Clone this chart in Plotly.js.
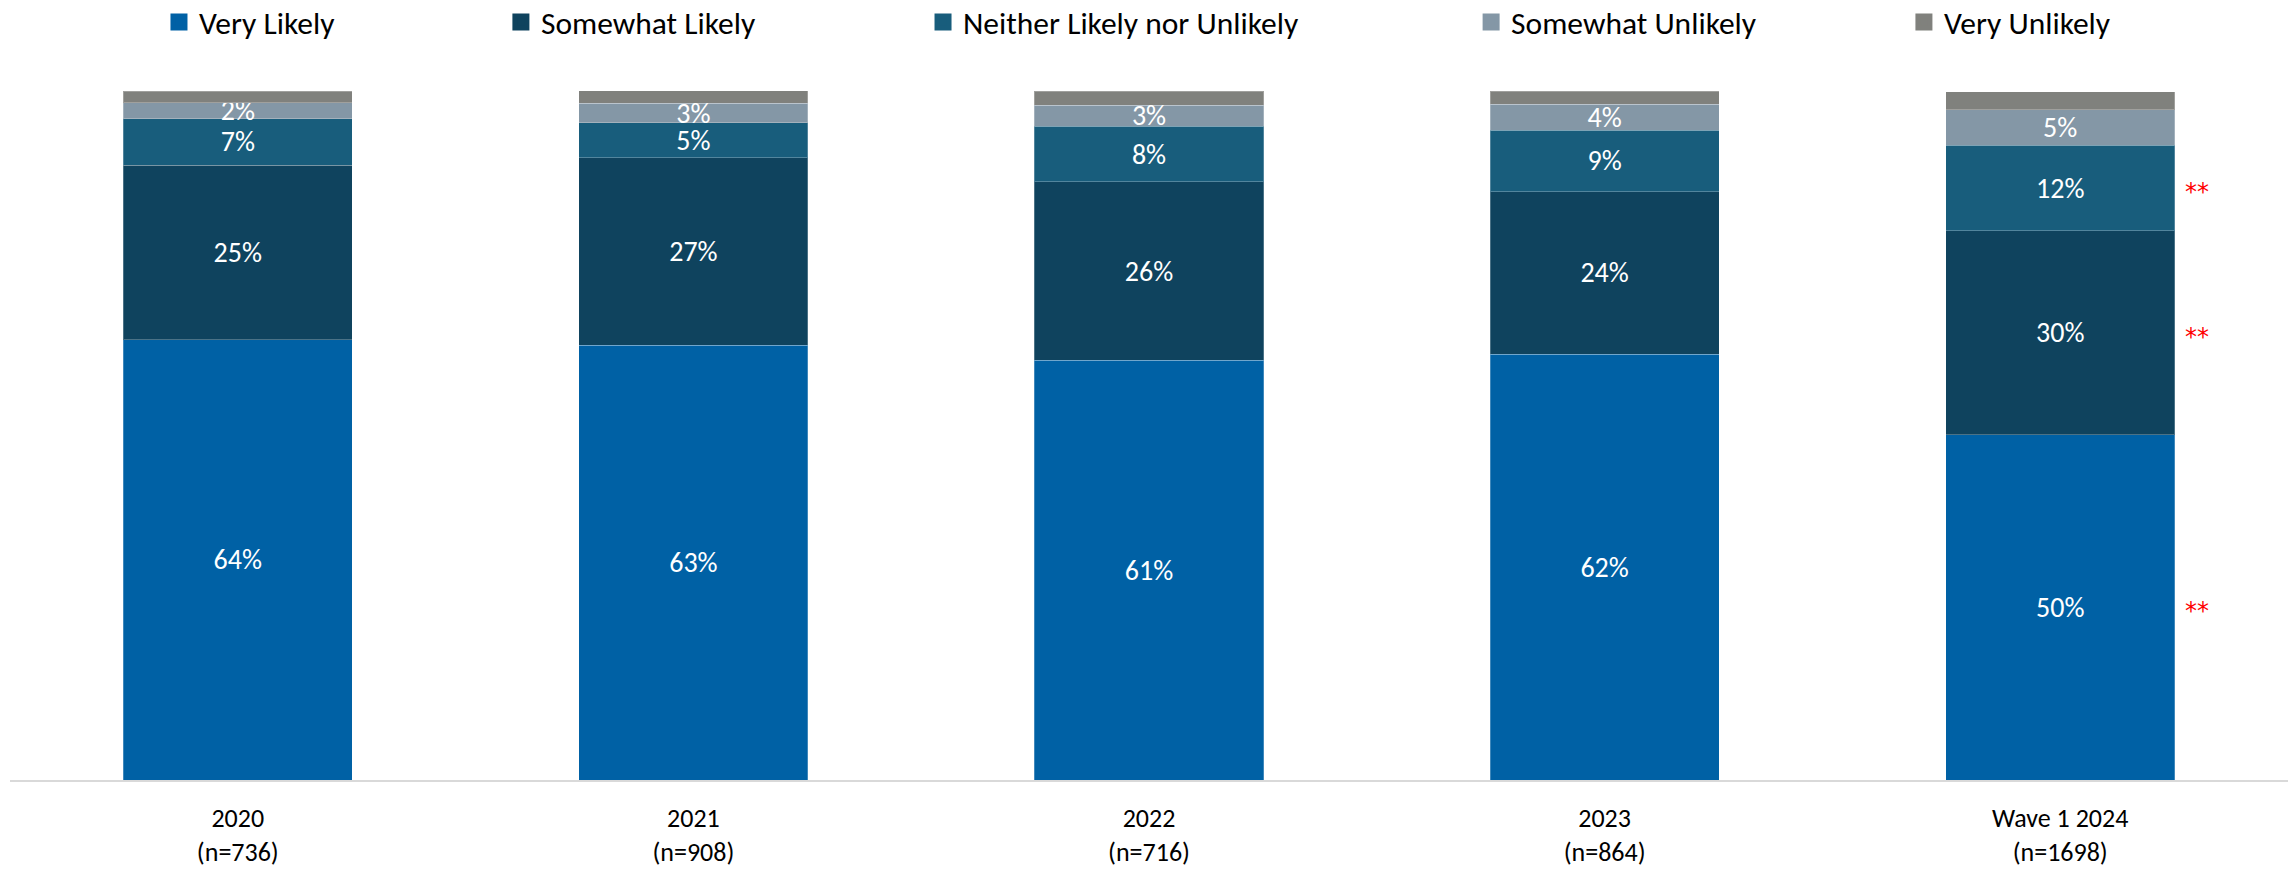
<!DOCTYPE html>
<html>
<head>
<meta charset="utf-8">
<script src="https://cdn.plot.ly/plotly-3.0.1.min.js"></script>
<style>
  html, body { margin: 0; padding: 0; background: #ffffff; }
  #chart { width: 2292px; height: 871px; }
</style>
</head>
<body>
<div id="chart"></div>
<script>
// ---- Data ----
const categories = ["2020<br>(n=736)", "2021<br>(n=908)", "2022<br>(n=716)", "2023<br>(n=864)", "Wave 1 2024<br>(n=1698)"];
const seriesNames = ["Very Likely", "Somewhat Likely", "Neither Likely nor Unlikely", "Somewhat Unlikely", "Very Unlikely"];
const veryLikely       = [63.9, 63.1, 60.9, 61.8, 50.1];
const somewhatLikely   = [25.3, 27.2, 25.9, 23.6, 29.6];
const neither          = [6.8, 5.1, 8.1, 8.9, 12.4];
const somewhatUnlikely = [2.3, 2.8, 3.0, 3.8, 5.2];
const veryUnlikely     = [1.7, 1.9, 2.1, 1.9, 2.6];
// significance markers (**) per series, per category
const sigVeryLikely     = [false, false, false, false, true];
const sigSomewhatLikely = [false, false, false, false, true];
const sigNeither        = [false, false, false, false, true];

// ---- Styling ----
const colors = ["#0061A5", "#0F435E", "#185D7C", "#8497A6", "#80817D"];
const FONT = "Carlito, Calibri, Lato, 'Liberation Sans', sans-serif";
const FS = 26;
const LABEL_FS = 28;
const LEGEND_FS = 31.5;

const seriesValues = [veryLikely, somewhatLikely, neither, somewhatUnlikely, veryUnlikely];
const showLabels = [true, true, true, true, false];
const legendIds = ["legend", "legend2", "legend3", "legend4", "legend5"];

// visible stacked bars
const traces = seriesValues.map((vals, i) => ({
  type: "bar",
  name: seriesNames[i],
  x: categories,
  y: vals,
  showlegend: false,
  marker: { color: colors[i], line: { color: "rgba(255,255,255,0.25)", width: 1 } },
  texttemplate: showLabels[i] ? "%{y:.0f}%" : "",
  textposition: showLabels[i] ? "inside" : "none",
  insidetextanchor: "middle",
  textangle: 0,
  constraintext: "none",
  textfont: { family: FONT, size: LABEL_FS, color: "#ffffff" },
  hoverinfo: "skip"
}));

// legend-only entries (drawn on a hidden overlay axis, out of range) so the
// legend squares can be larger than Plotly's default bar swatch
seriesValues.forEach((vals, i) => {
  traces.push({
    type: "bar",
    name: seriesNames[i],
    x: [0],
    y: [vals[0]],
    xaxis: "x2",
    yaxis: "y2",
    legend: legendIds[i],
    showlegend: true,
    marker: { color: colors[i], line: { color: colors[i], width: 5 } },
    hoverinfo: "skip"
  });
});

// asterisk annotations at the middle of flagged segments
const sigFlags = [sigVeryLikely, sigSomewhatLikely, sigNeither];
const annotations = [];
sigFlags.forEach((flags, s) => {
  flags.forEach((f, c) => {
    if (!f) return;
    let base = 0;
    for (let k = 0; k < s; k++) base += seriesValues[k][c];
    annotations.push({
      xref: "x", yref: "y",
      x: c, y: base + seriesValues[s][c] / 2,
      xshift: 137, yshift: -4,
      text: "**", showarrow: false,
      font: { family: "'DejaVu Sans', sans-serif", size: 24, color: "#FF0000" }
    });
  });
});

// legend positions (paper x of each legend entry)
const legendX = [0.0654, 0.2155, 0.4008, 0.6414, 0.8314];

const layout = {
  width: 2292,
  height: 871,
  margin: { l: 10, r: 4, t: 91, b: 91, autoexpand: false },
  paper_bgcolor: "#ffffff",
  plot_bgcolor: "#ffffff",
  barmode: "stack",
  bargap: 0.497,
  font: { family: FONT, size: FS, color: "#000000" },
  xaxis: {
    type: "category",
    showline: true,
    linecolor: "#D9D9D9",
    linewidth: 2,
    showgrid: false,
    zeroline: false,
    ticks: "",
    ticklabelstandoff: 14,
    tickfont: { family: FONT, size: FS, color: "#000000" },
    fixedrange: true
  },
  yaxis: {
    range: [0, 100],
    visible: false,
    showgrid: false,
    zeroline: false,
    fixedrange: true
  },
  xaxis2: { overlaying: "x", visible: false, range: [10, 11], fixedrange: true },
  yaxis2: { overlaying: "y", visible: false, range: [500, 600], fixedrange: true },
  annotations: annotations,
  showlegend: true
};

legendIds.forEach((id, i) => {
  layout[id] = {
    orientation: "h",
    x: legendX[i],
    xanchor: "left",
    y: 1.100,
    yanchor: "middle",
    bgcolor: "rgba(0,0,0,0)",
    font: { family: FONT, size: LEGEND_FS, color: "#000000" }
  };
});

Plotly.newPlot("chart", traces, layout, { displayModeBar: false, staticPlot: true });
</script>
</body>
</html>
